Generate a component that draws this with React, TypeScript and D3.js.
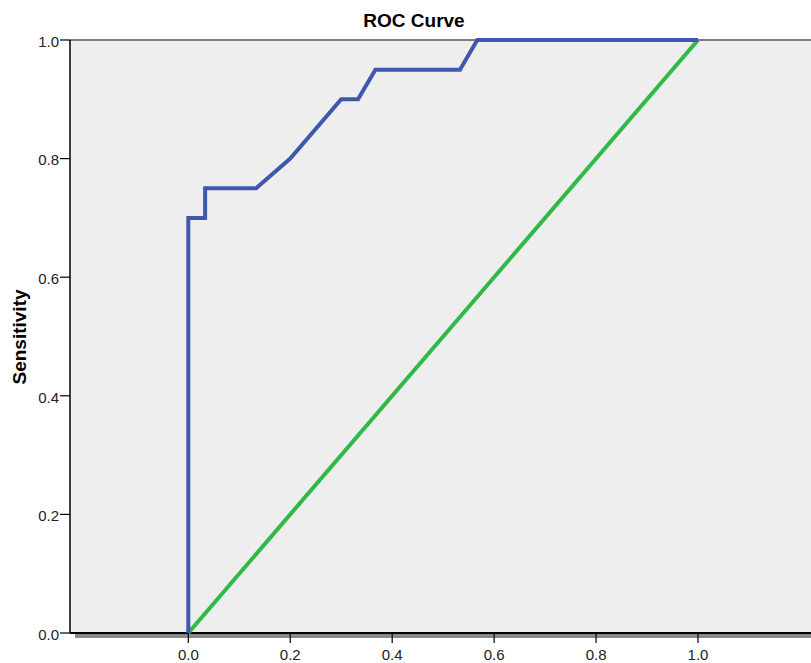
import { useEffect, useRef } from "react";
import * as d3 from "d3";

// ROC curve (1 - specificity, sensitivity)
const fpr = [0, 0, 0.033, 0.033, 0.133, 0.2, 0.3, 0.333, 0.367, 0.533, 0.567, 1.0];
const tpr = [0, 0.7, 0.7, 0.75, 0.75, 0.8, 0.9, 0.9, 0.95, 0.95, 1.0, 1.0];
const refX = [0, 1];
const refY = [0, 1];
const xTicks = [0, 0.2, 0.4, 0.6, 0.8, 1.0];
const yTicks = [0, 0.2, 0.4, 0.6, 0.8, 1.0];

const width = 811;
const height = 663;
const PLOT = { left: 70, top: 40, right: 811, bottom: 633 };
const FONT = "'Liberation Sans', Arial, sans-serif";

export default function App() {
  const svgRef = useRef<SVGSVGElement | null>(null);

  useEffect(() => {
    const svg = d3.select(svgRef.current);
    svg.selectAll("*").remove();

    const x = d3.scaleLinear().domain([0, 1]).range([188.3, 698]);
    const y = d3.scaleLinear().domain([0, 1]).range([PLOT.bottom, PLOT.top]);

    // plot background
    svg
      .append("rect")
      .attr("x", PLOT.left)
      .attr("y", PLOT.top)
      .attr("width", PLOT.right - PLOT.left)
      .attr("height", PLOT.bottom - PLOT.top)
      .attr("fill", "#eeeeee");

    // top frame line
    svg
      .append("line")
      .attr("x1", PLOT.left)
      .attr("x2", PLOT.right)
      .attr("y1", PLOT.top)
      .attr("y2", PLOT.top)
      .attr("stroke", "#555")
      .attr("stroke-width", 1.5);

    // shadow under the x axis
    svg
      .append("rect")
      .attr("x", 75)
      .attr("y", PLOT.bottom + 1)
      .attr("width", PLOT.right - 75)
      .attr("height", 4)
      .attr("fill", "#888");

    // y axis
    const yAxis = svg.append("g").attr("transform", `translate(${PLOT.left},0)`);
    yAxis
      .append("line")
      .attr("y1", PLOT.top)
      .attr("y2", PLOT.bottom)
      .attr("stroke", "#000")
      .attr("stroke-width", 1.5);
    yAxis
      .selectAll("g.tick")
      .data(yTicks)
      .join("g")
      .attr("class", "tick")
      .attr("transform", (d) => `translate(0,${y(d)})`)
      .each(function (d) {
        const g = d3.select(this);
        g.append("line").attr("x1", -10).attr("x2", 0).attr("stroke", "#000").attr("stroke-width", 1.2);
        g.append("text")
          .attr("x", -11)
          .attr("dy", "0.45em")
          .attr("text-anchor", "end")
          .attr("font-family", FONT)
          .attr("font-size", 15)
          .attr("fill", "#222")
          .text(d3.format(".1f")(d));
      });

    // x axis
    const xAxis = svg.append("g").attr("transform", `translate(0,${PLOT.bottom})`);
    xAxis
      .append("line")
      .attr("x1", PLOT.left)
      .attr("x2", PLOT.right)
      .attr("stroke", "#000")
      .attr("stroke-width", 2);
    xAxis
      .selectAll("g.tick")
      .data(xTicks)
      .join("g")
      .attr("class", "tick")
      .attr("transform", (d) => `translate(${x(d)},0)`)
      .each(function (d) {
        const g = d3.select(this);
        g.append("line").attr("y1", 0).attr("y2", 10).attr("stroke", "#000").attr("stroke-width", 1.2);
        g.append("text")
          .attr("y", 27)
          .attr("text-anchor", "middle")
          .attr("font-family", FONT)
          .attr("font-size", 15)
          .attr("fill", "#222")
          .text(d3.format(".1f")(d));
      });

    // reference diagonal
    svg
      .append("path")
      .attr(
        "d",
        d3
          .line<number>()
          .x((d) => x(d))
          .y((_, i) => y(refY[i]))(refX)
      )
      .attr("fill", "none")
      .attr("stroke", "#2fba48")
      .attr("stroke-width", 4);

    // ROC curve
    svg
      .append("path")
      .attr(
        "d",
        d3
          .line<number>()
          .x((d) => x(d))
          .y((_, i) => y(tpr[i]))(fpr)
      )
      .attr("fill", "none")
      .attr("stroke", "#3f58ae")
      .attr("stroke-width", 4)
      .attr("stroke-linejoin", "miter");

    // title
    svg
      .append("text")
      .attr("x", 414)
      .attr("y", 27)
      .attr("text-anchor", "middle")
      .attr("font-family", FONT)
      .attr("font-weight", "bold")
      .attr("font-size", 19)
      .attr("fill", "#000")
      .text("ROC Curve");

    // y label
    svg
      .append("text")
      .attr("transform", `translate(26,337) rotate(-90)`)
      .attr("text-anchor", "middle")
      .attr("font-family", FONT)
      .attr("font-weight", "bold")
      .attr("font-size", 19)
      .attr("fill", "#000")
      .text("Sensitivity");
  }, []);

  return (
    <svg
      ref={svgRef}
      width={width}
      height={height}
      style={{ position: "absolute", left: 0, top: 0, background: "#fff" }}
    />
  );
}
